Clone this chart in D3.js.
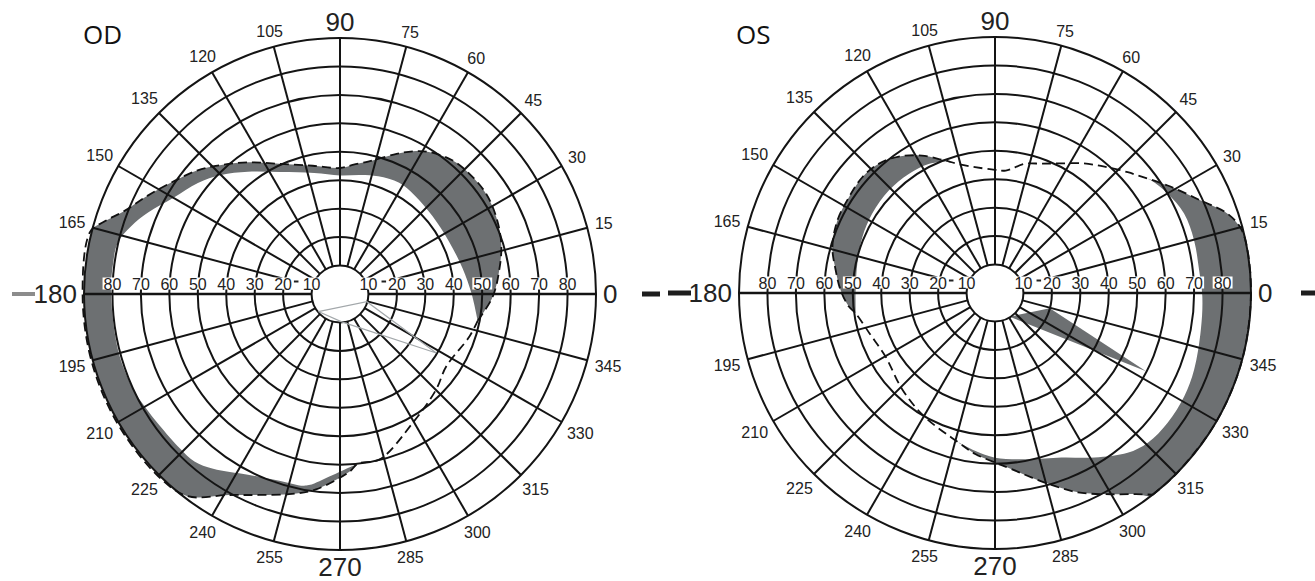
<!DOCTYPE html>
<html>
<head>
<meta charset="utf-8">
<script src="https://cdn.jsdelivr.net/npm/d3@7"></script>
<style>
  body { margin: 0; background: #fff; }
  svg { display: block; font-family: "Liberation Sans", Arial, sans-serif; }
</style>
</head>
<body>
<svg id="chart" width="1315" height="581"></svg>
<script>
// Grid: meridians every 15 deg, isopter rings every 10 deg of eccentricity
const spokeAngles = d3.range(0, 360, 15);
const ringValues = d3.range(10, 100, 10);
const ringLabels = [10, 20, 30, 40, 50, 60, 70, 80];

// Points are [meridian in deg (counter-clockwise from 0 at right), eccentricity in deg]
// OD - right eye
const odOuter = [[-11, 49.3], [-1, 53.7], [8.5, 56.6], [17, 59.3], [26, 61.2], [34.5, 62.3], [43, 62.1],
  [50, 61.4], [58, 58.9], [63, 56.3], [68, 53.1], [74, 49.5], [78, 47.6], [84, 45.7], [90, 44.3],
  [102, 46.1], [115, 50.5], [125, 56.5], [133, 61.9], [139, 66.3], [146, 70.7], [153, 76], [159, 81.3],
  [163, 86.8], [166, 90.5], [180, 90.5], [195, 90.5], [210, 90.5], [225, 90.5], [233, 89],
  [241, 80.8], [248, 76.2], [256.5, 72.3], [263, 69.2], [273, 62.6], [276, 60]];
const odInner = [[-11, 49.3], [0, 46.3], [12, 44], [26, 42.5], [40, 42.5], [53, 43.5], [62, 44.3],
  [72, 43.5], [80, 42.5], [90, 41.7], [102, 43.5], [116, 47.7], [127, 53.8], [135, 59.2], [142, 63.4],
  [150, 67.6], [157, 73.3], [162, 77.2], [167, 80.2], [172, 80.5], [180, 80.5], [195, 80.5], [205, 80],
  [210, 79.2], [216, 78.5], [224, 78.2], [229, 78], [234, 75.9], [243, 71.3], [252, 69], [260, 68.4],
  [266, 64.7], [273, 61.1], [276, 60]];
const odDashTail = [[283.5, 59.8], [299.5, 52], [315, 47.7], [325.7, 45.2], [341.8, 47.9], [349, 49.3]];
const odThin = [[219, 9.8], [344, 9.8], [328.5, 39.7], [273.5, 9.8], [219, 9.8]];

// OS - left eye
const osCrescentOuter = [[109.4, 49.1], [111.7, 50.4], [118, 54.7], [125.2, 58.7], [132, 61.1],
  [138.9, 61.9], [146.7, 61.4], [155.2, 61], [164.2, 59.4], [171.8, 56.6], [178.9, 54.3],
  [185.3, 51.6], [188.3, 49.5]];
const osCrescentInner = [[109.4, 49.1], [117.2, 51], [125.9, 51.7], [136, 51.9], [147.1, 51.4],
  [157.1, 50.6], [167.9, 49.5], [178.8, 49], [188.3, 49.5]];
const osBandOuter = [[39.5, 65], [31.9, 71.5], [24.2, 79.3], [18.9, 86.3], [14.9, 89.3], [11, 90.5],
  [0, 90.5], [-15, 90.5], [-30, 90.5], [-45, 90.5], [-52, 90.5], [-55, 86.3], [-60, 81.7],
  [-67.4, 75.9], [-75.3, 68.9], [-84.6, 62.2], [-90, 59.6], [-97, 57], [-104, 54]];
const osBandInner = [[39.5, 65], [36, 67.6], [30, 70], [22.8, 72.1], [14.8, 72.4], [6.4, 72.2],
  [-1, 72.9], [-10, 73.5], [-21, 75], [-28.6, 75.8], [-36.9, 75.9], [-44.4, 75.2], [-50.3, 73],
  [-58.8, 67.6], [-68, 62.4], [-78.7, 59.6], [-90, 57.9], [-97, 56], [-104, 54]];
const osWedge = [[302, 9.8], [344.5, 20], [332.6, 59.8]];
const osDash = [[-52, 90], [-45, 90], [-30, 90], [-15, 90], [0, 90], [11, 90], [14.9, 89.3],
  [18.9, 86.3], [24.2, 79.3], [31.9, 71.5], [39.5, 65], [42.3, 63.1], [49.1, 58.8], [56, 55],
  [62.9, 51.2], [70, 48.4], [77, 46.6], [85, 43.2], [90, 43.3], [99, 44.8], [106.7, 47.5],
  [109.4, 49.1], [111.7, 50.4], [118, 54.7], [125.2, 58.7], [132, 61.1], [138.9, 61.9], [146.7, 61.4],
  [155.2, 61], [164.2, 59.4], [171.8, 56.6], [178.9, 54.3], [185.3, 51.6], [188.3, 49.5],
  [198, 46.3], [210, 44.5], [226, 47], [240, 50], [256, 54], [263, 57], [270, 59.6], [275.4, 62.2],
  [284.7, 68.9], [292.6, 75.9], [300, 81.7], [305, 86.3], [308, 90]];

const svg = d3.select("#chart");
const r = d3.scaleLinear().domain([0, 90]).range([0, 256]);
const toRad = a => (90 - a) * Math.PI / 180;

const smooth = d3.lineRadial()
  .angle(d => toRad(d[0]))
  .radius(d => r(d[1]))
  .curve(d3.curveCatmullRom.alpha(0.5));
const straight = d3.lineRadial()
  .angle(d => toRad(d[0]))
  .radius(d => r(d[1]));

// filled band between two boundaries which meet at both ends
function bandPath(outer, inner) {
  const a = smooth(outer);
  const b = smooth(inner.slice().reverse());
  return a + "L" + b.slice(1) + "Z";
}

function drawField(cx, cy, id, spec) {
  const g = svg.append("g").attr("transform", "translate(" + cx + "," + cy + ")");

  g.append("clipPath").attr("id", "clip-" + id)
    .append("circle").attr("r", r(90));

  // grey zones
  const fills = g.append("g").attr("clip-path", "url(#clip-" + id + ")");
  spec.bands.forEach(b => {
    fills.append("path").attr("d", bandPath(b[0], b[1])).attr("fill", "#6d7072");
  });
  (spec.polys || []).forEach(p => {
    fills.append("path").attr("d", straight(p) + "Z").attr("fill", "#6d7072");
  });

  // rings
  g.selectAll("circle.ring")
    .data(ringValues)
    .enter().append("circle")
    .attr("class", "ring")
    .attr("r", d => r(d))
    .attr("fill", "none")
    .attr("stroke", "#141414")
    .attr("stroke-width", 2);

  // meridians
  g.selectAll("line.spoke")
    .data(spokeAngles)
    .enter().append("line")
    .attr("class", "spoke")
    .attr("x1", d => r(d === 15 || d === 165 ? 21 : 10) * Math.cos(d * Math.PI / 180))
    .attr("y1", d => -r(d === 15 || d === 165 ? 21 : 10) * Math.sin(d * Math.PI / 180))
    .attr("x2", d => r(90) * Math.cos(d * Math.PI / 180))
    .attr("y2", d => -r(90) * Math.sin(d * Math.PI / 180))
    .attr("stroke", "#141414")
    .attr("stroke-width", d => d % 180 === 0 ? 2.4 : 2);

  // dashed isopter
  g.append("path")
    .attr("d", smooth(spec.dash))
    .attr("fill", "none")
    .attr("stroke", "#111")
    .attr("stroke-width", 1.8)
    .attr("stroke-dasharray", "9,5");

  if (spec.thin) {
    g.append("path")
      .attr("d", straight(spec.thin))
      .attr("fill", "none")
      .attr("stroke", "#a3a8ab")
      .attr("stroke-width", 1.2);
  }

  // eccentricity labels along the horizontal meridian, on small white boxes
  const boxes = g.append("g");
  const labels = g.append("g");
  [-1, 1].forEach(side => {
    ringLabels.forEach(v => {
      const t = labels.append("text")
        .attr("x", side * r(v))
        .attr("y", -4.5)
        .attr("text-anchor", "middle")
        .attr("font-size", 16)
        .attr("fill", "#222")
        .text(v);
      const bb = t.node().getBBox();
      boxes.append("rect")
        .attr("x", bb.x - 1).attr("y", -16.5)
        .attr("width", bb.width + 2).attr("height", 12)
        .attr("fill", "#fff");
    });
    labels.append("line")
      .attr("x1", side * r(14.6)).attr("x2", side * r(16.2))
      .attr("y1", -12.5).attr("y2", -12.5)
      .attr("stroke", "#222").attr("stroke-width", 2);
  });

  // meridian labels
  spokeAngles.forEach(a => {
    const big = a % 90 === 0;
    const fs = big ? 26 : 16;
    const t = g.append("text")
      .attr("text-anchor", "middle")
      .attr("dy", "0.36em")
      .attr("font-size", fs)
      .attr("fill", "#222")
      .text(a);
    const w = t.node().getBBox().width;
    const th = a * Math.PI / 180;
    const rr = 263 + (w / 2) * Math.abs(Math.cos(th)) + (fs * 0.36) * Math.abs(Math.sin(th));
    t.attr("x", rr * Math.cos(th)).attr("y", -rr * Math.sin(th));
  });

  svg.append("text")
    .attr("x", spec.titleX).attr("y", 44)
    .attr("font-family", "'Open Sans', sans-serif")
    .attr("font-size", 26)
    .attr("fill", "#111")
    .text(spec.title);
}

drawField(340, 294, "od", {
  title: "OD", titleX: 83,
  bands: [[odOuter, odInner]],
  dash: odOuter.concat(odDashTail),
  thin: odThin
});

drawField(995, 293, "os", {
  title: "OS", titleX: 736,
  bands: [[osCrescentOuter, osCrescentInner], [osBandOuter, osBandInner]],
  polys: [osWedge],
  dash: osDash
});

// short marks beside 180 and 0
const marks = [[12, 35, 294, 4, "#8c8c8c"], [642, 660, 294, 5, "#1e1e1e"],
  [668, 691, 293, 5, "#1e1e1e"], [1301, 1315, 293, 5, "#1e1e1e"]];
svg.selectAll("rect.mark")
  .data(marks)
  .enter().append("rect")
  .attr("class", "mark")
  .attr("x", d => d[0]).attr("y", d => d[2] - d[3] / 2)
  .attr("width", d => d[1] - d[0]).attr("height", d => d[3])
  .attr("fill", d => d[4]);
</script>
</body>
</html>
